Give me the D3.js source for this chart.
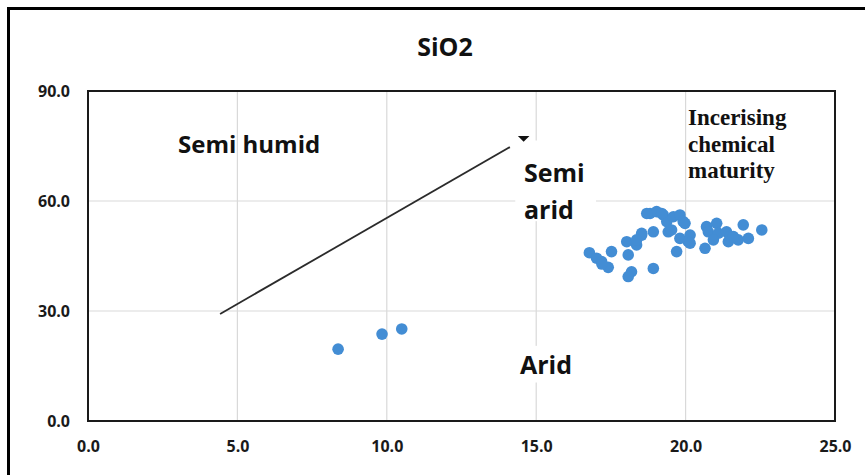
<!DOCTYPE html>
<html>
<head>
<meta charset="utf-8">
<script src="https://cdn.jsdelivr.net/npm/d3@7"></script>
<style>
  html, body { margin: 0; padding: 0; background: #fff; }
  svg { display: block; }
</style>
</head>
<body>
<svg id="chart" width="865" height="475"></svg>
<script>
// ---- data ----
const xTicks = [0, 5, 10, 15, 20, 25];
const yTicks = [0, 30, 60, 90];
const sampleX = [8.37, 9.84, 10.5, 16.78, 17.02, 17.19, 17.41, 17.52, 18.03, 18.08, 18.19, 18.08, 18.36, 18.53, 18.92, 18.92,
  18.81, 19.03, 19.25, 19.37, 19.42, 19.59, 19.81, 19.92, 19.81, 19.70, 20.15, 20.09, 20.70, 20.76, 20.65, 21.04, 21.10,
  21.37, 21.43, 21.49, 21.76, 21.93, 22.10, 22.55, 18.70, 19.20, 19.53, 19.98, 20.15, 18.53, 18.36, 17.20, 20.93, 21.60];
const sampleY = [19.6, 23.7, 25.1, 45.9, 44.4, 43.5, 41.9, 46.2, 48.9, 45.3, 40.7, 39.4, 48.0, 50.7, 51.6, 41.6,
  56.6, 57.1, 56.2, 54.4, 51.6, 55.7, 56.2, 54.4, 49.8, 46.2, 50.7, 48.9, 53.0, 51.6, 47.1, 53.9, 51.2,
  51.6, 48.9, 50.3, 49.4, 53.5, 49.8, 52.1, 56.6, 56.6, 52.1, 53.9, 48.5, 51.2, 49.4, 42.8, 49.4, 50.3];
const trendX = [4.42, 14.12];
const trendY = [29.2, 74.7];
const arrowX = [14.58];
const arrowY = [77.2];
const title = "SiO2";

// ---- layout ----
const svg = d3.select("#chart");
const plot = { left: 88, right: 835, top: 91, bottom: 421 };
const x = d3.scaleLinear().domain([0, 25]).range([plot.left, plot.right]);
const y = d3.scaleLinear().domain([0, 90]).range([plot.bottom, plot.top]);

// outer frame (cropped: only top and left visible)
svg.append("rect").attr("x", 8.5).attr("y", 8.5).attr("width", 900).attr("height", 500)
  .attr("fill", "none").attr("stroke", "#000").attr("stroke-width", 3);

// title
svg.append("text").attr("x", 445).attr("y", 56).attr("text-anchor", "middle")
  .attr("font-family", "Open Sans").attr("font-weight", 700).attr("font-size", 25)
  .attr("fill", "#111").text(title);

// gridlines
const grid = svg.append("g");
grid.selectAll("line.v").data(xTicks.slice(1, -1)).join("line")
  .attr("x1", d => x(d)).attr("x2", d => x(d)).attr("y1", plot.top).attr("y2", plot.bottom)
  .attr("stroke", "#d9d9d9").attr("stroke-width", 1.2);
grid.selectAll("line.h").data(yTicks.slice(1, -1)).join("line")
  .attr("y1", d => y(d)).attr("y2", d => y(d)).attr("x1", plot.left).attr("x2", plot.right)
  .attr("stroke", "#d9d9d9").attr("stroke-width", 1.2);

// axes (labels only, via d3 axes)
const fmt = d3.format(".1f");
const xAxis = svg.append("g").attr("transform", `translate(0,${plot.bottom})`)
  .call(d3.axisBottom(x).tickValues(xTicks).tickFormat(fmt).tickSize(0).tickPadding(20));
const yAxis = svg.append("g").attr("transform", `translate(${plot.left},0)`)
  .call(d3.axisLeft(y).tickValues(yTicks).tickFormat(fmt).tickSize(0).tickPadding(18));
[xAxis, yAxis].forEach(a => {
  a.select(".domain").remove();
  a.selectAll("text").attr("font-family", "Open Sans").attr("font-weight", 700)
    .attr("font-size", 16).attr("fill", "#1a1a1a");
});

// plot border
svg.append("rect").attr("x", plot.left).attr("y", plot.top)
  .attr("width", plot.right - plot.left).attr("height", plot.bottom - plot.top)
  .attr("fill", "none").attr("stroke", "#1a1a1a").attr("stroke-width", 2);

// label backgrounds (white boxes hiding gridlines like the original text boxes)
const boxes = [
  { x0: 14.3, x1: 17.0, y0: 76.5, y1: 54.5 },
  { x0: 14.3, x1: 16.6, y0: 20.5, y1: 10.5 }
];
svg.append("g").selectAll("rect").data(boxes).join("rect")
  .attr("x", d => x(d.x0)).attr("y", d => y(d.y0))
  .attr("width", d => x(d.x1) - x(d.x0)).attr("height", d => y(d.y1) - y(d.y0))
  .attr("fill", "#fff");

// trend line
svg.append("line")
  .attr("x1", x(trendX[0])).attr("y1", y(trendY[0]))
  .attr("x2", x(trendX[1])).attr("y2", y(trendY[1]))
  .attr("stroke", "#2b2b2b").attr("stroke-width", 1.8);
svg.append("path")
  .attr("d", d3.symbol().type(d3.symbolTriangle).size(40)())
  .attr("transform", `translate(${x(arrowX[0])},${y(arrowY[0])}) rotate(180) scale(1.2,0.7)`)
  .attr("fill", "#111");

// points
svg.append("g").selectAll("circle").data(sampleX.map((d, i) => [d, sampleY[i]])).join("circle")
  .attr("cx", d => x(d[0])).attr("cy", d => y(d[1])).attr("r", 5.8)
  .attr("fill", "#438dd4");

// region labels
const labelFont = "Open Sans";
function label(txt, xs, yBase, size, family, weight) {
  svg.append("text").attr("x", xs).attr("y", yBase)
    .attr("font-family", family).attr("font-weight", weight).attr("font-size", size)
    .attr("fill", "#111").text(txt);
}
label("Semi humid", 178, 153, 24, labelFont, 700);
label("Semi", 524, 182, 25, labelFont, 700);
label("arid", 524, 219, 25, labelFont, 700);
label("Arid", 520, 374, 25, labelFont, 700);
label("Incerising", 688, 125, 23, "Liberation Serif", 700);
label("chemical", 688, 152, 23, "Liberation Serif", 700);
label("maturity", 688, 178, 23, "Liberation Serif", 700);
</script>
</body>
</html>
